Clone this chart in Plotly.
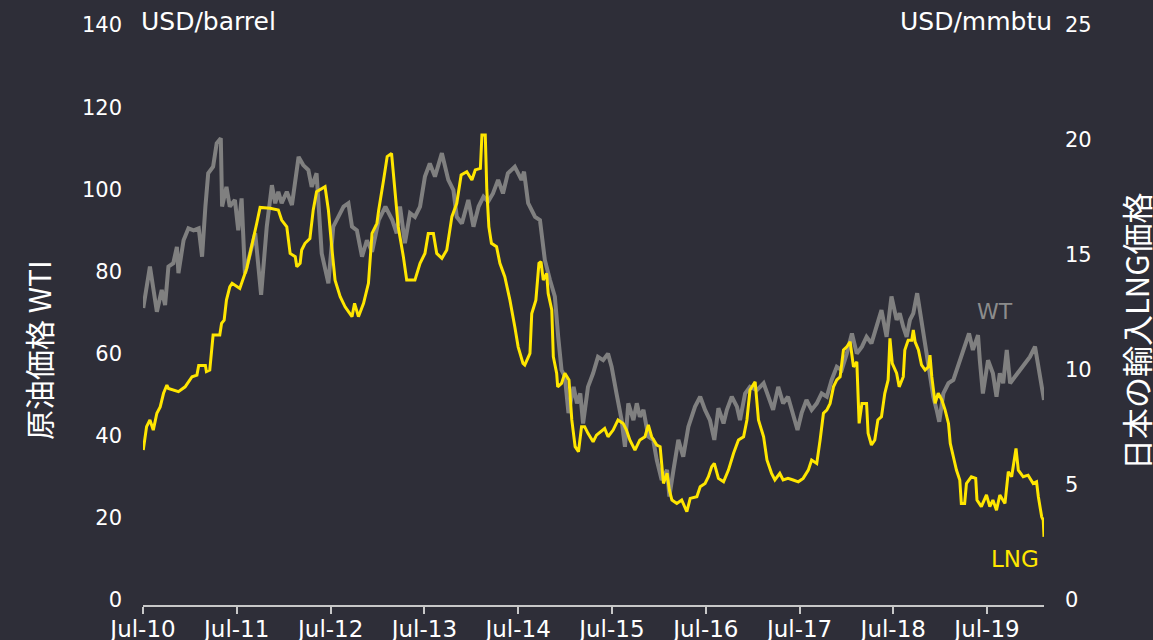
import plotly.graph_objects as go

# WTI crude oil price (USD/barrel)
wti_dates = [
    "2010-07-02", "2010-07-28", "2010-08-24", "2010-09-12", "2010-09-25", "2010-10-08",
    "2010-10-27", "2010-11-10", "2010-11-16", "2010-12-06", "2010-12-25", "2011-01-14",
    "2011-02-03", "2011-02-16", "2011-03-01", "2011-03-12", "2011-03-31", "2011-04-14",
    "2011-04-30", "2011-05-05", "2011-05-22", "2011-06-04", "2011-06-24", "2011-07-07",
    "2011-07-20", "2011-08-02", "2011-08-22", "2011-09-11", "2011-10-04", "2011-10-26",
    "2011-11-15", "2011-11-28", "2011-12-10", "2011-12-23", "2012-01-12", "2012-02-01",
    "2012-02-27", "2012-03-16", "2012-04-05", "2012-04-18", "2012-05-07", "2012-05-27",
    "2012-06-22", "2012-07-11", "2012-08-20", "2012-09-08", "2012-09-22", "2012-10-11",
    "2012-10-31", "2012-11-19", "2012-12-09", "2013-01-04", "2013-01-30", "2013-02-26",
    "2013-03-15", "2013-03-28", "2013-04-16", "2013-05-06", "2013-05-25", "2013-06-14",
    "2013-07-03", "2013-07-22", "2013-08-11", "2013-09-07", "2013-10-02", "2013-10-22",
    "2013-11-04", "2013-11-24", "2013-12-19", "2014-01-08", "2014-01-28", "2014-02-16",
    "2014-03-06", "2014-03-25", "2014-04-14", "2014-05-03", "2014-05-22", "2014-06-18",
    "2014-07-14", "2014-07-24", "2014-08-09", "2014-09-05", "2014-09-24", "2014-10-13",
    "2014-11-02", "2014-11-21", "2014-12-04", "2014-12-17", "2014-12-30", "2015-01-13",
    "2015-02-02", "2015-02-15", "2015-02-28", "2015-03-11", "2015-03-30", "2015-04-19",
    "2015-05-08", "2015-05-28", "2015-06-16", "2015-06-30", "2015-07-19", "2015-08-08",
    "2015-08-21", "2015-09-03", "2015-09-23", "2015-10-06", "2015-10-18", "2015-11-01",
    "2015-11-20", "2015-12-09", "2015-12-23", "2016-01-11", "2016-02-01", "2016-02-10",
    "2016-02-26", "2016-03-16", "2016-04-04", "2016-04-24", "2016-05-20", "2016-06-09",
    "2016-06-28", "2016-07-17", "2016-08-03", "2016-08-19", "2016-09-08", "2016-09-21",
    "2016-10-10", "2016-10-30", "2016-11-11", "2016-12-01", "2016-12-20", "2017-01-16",
    "2017-02-11", "2017-03-01", "2017-03-20", "2017-04-09", "2017-04-28", "2017-05-17",
    "2017-06-06", "2017-06-23", "2017-07-09", "2017-07-28", "2017-08-17", "2017-09-06",
    "2017-09-25", "2017-10-15", "2017-11-03", "2017-11-23", "2017-12-12", "2018-01-01",
    "2018-01-21", "2018-02-09", "2018-03-01", "2018-03-19", "2018-04-07", "2018-04-27",
    "2018-05-16", "2018-06-05", "2018-06-24", "2018-07-14", "2018-07-26", "2018-08-09",
    "2018-08-22", "2018-09-04", "2018-09-17", "2018-10-02", "2018-10-19", "2018-11-08",
    "2018-11-21", "2018-12-04", "2018-12-17", "2018-12-27", "2019-01-12", "2019-02-01",
    "2019-02-20", "2019-03-10", "2019-03-29", "2019-04-22", "2019-05-07", "2019-05-27",
    "2019-06-03", "2019-06-15", "2019-07-05", "2019-07-24", "2019-08-07", "2019-08-20",
    "2019-09-02", "2019-09-16", "2019-09-29", "2019-10-18", "2019-11-07", "2019-11-26",
    "2019-12-15", "2020-01-04", "2020-01-17", "2020-01-30", "2020-02-08",
]
wti_values = [
    71.1, 81.2, 70.2, 75.5, 71.8, 81.2,
    82.0, 86.0, 79.6, 87.6, 90.5, 90.0,
    90.5, 83.6, 95.8, 103.9, 105.5, 111.2,
    112.4, 95.8, 100.6, 95.8, 97.4, 90.0,
    97.8, 79.5, 84.4, 89.3, 74.3, 90.9,
    101.0, 96.6, 99.4, 96.6, 99.4, 96.2,
    107.9, 105.9, 104.7, 100.6, 103.9, 84.4,
    77.1, 90.9, 95.8, 96.6, 90.9, 90.0,
    83.6, 87.6, 84.8, 92.5, 95.8, 92.5,
    89.3, 95.8, 86.9, 94.2, 93.3, 95.8,
    103.1, 106.3, 103.1, 108.8, 102.3, 99.8,
    93.3, 91.7, 97.4, 90.9, 95.8, 98.2,
    97.0, 99.0, 102.3, 99.0, 103.9, 105.5,
    102.3, 104.3, 96.6, 93.3, 92.5, 82.8,
    77.9, 73.9, 64.1, 56.0, 54.4, 45.5,
    51.9, 47.9, 50.3, 43.0, 51.9, 55.2,
    59.2, 58.4, 60.0, 56.8, 50.3, 43.8,
    37.3, 47.9, 43.8, 47.9, 44.6, 46.3,
    39.8, 39.0, 34.1, 29.2, 31.7, 25.2,
    31.7, 39.0, 34.9, 42.2, 47.1, 49.5,
    46.3, 43.8, 39.0, 46.7, 43.0, 46.3,
    49.5, 47.1, 43.8, 50.3, 51.9, 51.1,
    52.8, 49.5, 46.3, 51.9, 47.9, 49.5,
    45.5, 41.4, 45.5, 48.7, 46.3, 47.9,
    50.3, 49.5, 53.6, 56.8, 56.0, 60.0,
    64.9, 60.0, 61.7, 64.1, 62.5, 66.5,
    70.6, 64.1, 73.9, 68.2, 69.8, 66.5,
    64.1, 68.2, 69.8, 74.7, 68.2, 60.9,
    55.2, 49.5, 46.3, 43.4, 50.3, 52.8,
    53.6, 56.8, 60.0, 64.9, 60.9, 64.5,
    58.4, 50.3, 58.4, 55.2, 49.5, 55.2,
    52.8, 60.9, 52.8, 54.4, 56.0, 57.6,
    59.2, 61.7, 56.8, 52.8, 48.7,
]

# Japan LNG import price (USD/mmbtu)
lng_dates = [
    "2010-07-02", "2010-07-08", "2010-07-15", "2010-07-28", "2010-08-10", "2010-08-24",
    "2010-09-06", "2010-09-19", "2010-10-02", "2010-10-08", "2010-11-16", "2010-12-12",
    "2011-01-08", "2011-01-27", "2011-02-03", "2011-03-01", "2011-03-05", "2011-03-18",
    "2011-03-25", "2011-03-31", "2011-04-26", "2011-05-03", "2011-05-13", "2011-05-22",
    "2011-06-04", "2011-06-13", "2011-07-13", "2011-07-26", "2011-08-09", "2011-08-22",
    "2011-09-04", "2011-09-17", "2011-09-30", "2011-11-08", "2011-12-10", "2011-12-23",
    "2012-01-12", "2012-01-25", "2012-02-14", "2012-02-20", "2012-03-04", "2012-03-10",
    "2012-03-23", "2012-04-11", "2012-04-24", "2012-05-07", "2012-06-09", "2012-06-22",
    "2012-07-05", "2012-07-18", "2012-08-07", "2012-08-26", "2012-09-22", "2012-10-02",
    "2012-10-17", "2012-11-06", "2012-11-25", "2012-12-09", "2012-12-28", "2013-01-04",
    "2013-01-23", "2013-02-06", "2013-02-23", "2013-03-08", "2013-03-21", "2013-04-10",
    "2013-04-23", "2013-05-25", "2013-06-14", "2013-07-03", "2013-07-16", "2013-08-05",
    "2013-08-18", "2013-09-07", "2013-09-26", "2013-10-16", "2013-11-04", "2013-11-21",
    "2013-12-13", "2014-01-02", "2014-01-15", "2014-02-04", "2014-02-10", "2014-02-23",
    "2014-03-01", "2014-03-09", "2014-03-19", "2014-04-08", "2014-04-21", "2014-05-10",
    "2014-05-30", "2014-06-18", "2014-07-01", "2014-07-20", "2014-07-27", "2014-08-16",
    "2014-08-23", "2014-09-08", "2014-09-20", "2014-09-28", "2014-10-07", "2014-10-20",
    "2014-10-26", "2014-11-09", "2014-11-15", "2014-11-28", "2014-12-02", "2014-12-17",
    "2014-12-30", "2015-01-15", "2015-01-26", "2015-02-08", "2015-02-21", "2015-03-05",
    "2015-03-17", "2015-03-30", "2015-04-19", "2015-05-02", "2015-05-21", "2015-06-03",
    "2015-06-16", "2015-07-06", "2015-07-25", "2015-08-14", "2015-08-27", "2015-09-09",
    "2015-09-29", "2015-10-18", "2015-11-07", "2015-11-20", "2015-12-03", "2015-12-23",
    "2016-01-05", "2016-01-18", "2016-02-01", "2016-02-10", "2016-02-20", "2016-03-10",
    "2016-03-29", "2016-04-18", "2016-05-01", "2016-05-27", "2016-06-09", "2016-06-28",
    "2016-07-11", "2016-07-24", "2016-08-03", "2016-08-19", "2016-09-08", "2016-09-27",
    "2016-10-17", "2016-11-05", "2016-11-25", "2016-12-08", "2016-12-20", "2017-01-09",
    "2017-01-22", "2017-02-11", "2017-02-24", "2017-03-14", "2017-03-27", "2017-04-15",
    "2017-04-28", "2017-05-17", "2017-06-06", "2017-06-26", "2017-07-15", "2017-08-04",
    "2017-08-17", "2017-09-06", "2017-09-19", "2017-10-02", "2017-10-15", "2017-10-28",
    "2017-11-10", "2017-11-23", "2017-12-06", "2017-12-19", "2018-01-01", "2018-01-14",
    "2018-01-27", "2018-02-09", "2018-02-18", "2018-03-01", "2018-03-19", "2018-03-25",
    "2018-04-07", "2018-04-20", "2018-05-02", "2018-05-16", "2018-05-29", "2018-06-11",
    "2018-06-18", "2018-06-27", "2018-07-14", "2018-07-24", "2018-08-09", "2018-08-15",
    "2018-08-28", "2018-09-11", "2018-09-17", "2018-09-24", "2018-10-07", "2018-10-19",
    "2018-11-02", "2018-11-15", "2018-11-21", "2018-11-28", "2018-12-11", "2018-12-23",
    "2019-01-06", "2019-01-19", "2019-02-01", "2019-02-08", "2019-02-20", "2019-03-04",
    "2019-03-17", "2019-03-23", "2019-04-05", "2019-04-12", "2019-05-01", "2019-05-18",
    "2019-05-23", "2019-06-09", "2019-06-29", "2019-07-12", "2019-07-24", "2019-08-07",
    "2019-08-20", "2019-09-09", "2019-09-22", "2019-10-05", "2019-10-22", "2019-10-31",
    "2019-11-19", "2019-12-08", "2019-12-28", "2020-01-10", "2020-01-17", "2020-01-30",
    "2020-02-05", "2020-02-08",
]
lng_values = [
    6.52, 7.10, 7.54, 7.83, 7.39, 8.12,
    8.40, 8.99, 9.35, 9.20, 9.06, 9.27,
    9.71, 9.78, 10.20, 10.20, 9.93, 10.00,
    11.00, 11.52, 11.52, 12.03, 12.17, 13.04,
    13.62, 13.77, 13.55, 13.99, 14.42, 15.07,
    15.80, 16.38, 17.07, 17.03, 16.96, 16.52,
    16.23, 15.07, 14.93, 14.49, 14.64, 15.22,
    15.51, 15.72, 16.96, 17.75, 17.97, 16.96,
    15.36, 13.91, 13.19, 12.75, 12.32, 12.90,
    12.32, 12.90, 13.77, 15.94, 16.38, 16.96,
    18.26, 19.28, 19.42, 17.97, 16.23, 14.93,
    13.91, 13.91, 14.64, 15.07, 15.94, 15.94,
    15.07, 14.86, 15.22, 16.67, 17.25, 18.48,
    18.62, 18.26, 18.70, 18.77, 20.22, 20.22,
    17.83, 16.23, 15.51, 15.36, 14.64, 14.06,
    13.04, 11.88, 11.01, 10.29, 10.22, 10.72,
    12.46, 13.04, 14.64, 14.71, 13.91, 14.20,
    13.33, 12.61, 10.58, 9.86, 9.27, 9.42,
    9.86, 9.57, 7.83, 6.67, 6.45, 7.54,
    7.54, 7.25, 6.88, 7.17, 7.32, 7.46,
    7.10, 7.39, 7.83, 7.68, 7.39, 6.96,
    6.52, 6.96, 7.10, 7.61, 7.10, 6.74,
    6.67, 5.07, 5.51, 4.78, 4.35, 4.20,
    4.35, 3.84, 4.42, 4.49, 4.93, 5.07,
    5.36, 5.80, 5.94, 5.29, 5.14, 5.65,
    6.38, 6.96, 7.10, 7.83, 9.13, 9.49,
    7.83, 7.10, 6.09, 5.51, 5.22, 5.51,
    5.22, 5.29, 5.22, 5.14, 5.29, 5.65,
    6.09, 5.94, 6.96, 8.12, 8.26, 8.55,
    9.27, 9.57, 9.71, 10.87, 11.01, 11.23,
    10.14, 10.36, 7.68, 8.55, 8.55, 7.25,
    6.74, 6.96, 7.83, 7.97, 8.99, 9.57,
    11.38, 10.29, 9.86, 9.27, 9.71, 10.87,
    11.30, 11.30, 11.74, 11.23, 10.87, 10.22,
    10.00, 10.14, 10.65, 9.71, 8.55, 8.99,
    8.70, 8.26, 7.68, 6.81, 6.23, 5.65,
    5.22, 4.20, 4.20, 5.07, 5.36, 5.29,
    4.35, 4.06, 4.57, 4.06, 4.35, 3.91,
    4.57, 4.20, 5.58, 5.36, 6.59, 5.65,
    5.36, 5.43, 5.07, 5.14, 4.49, 3.62,
    3.48, 2.75,
]

# Axis ticks
x_tick_dates = [f"20{y}-07-01" for y in range(10, 20)]
x_tick_text = [f"Jul-{y}" for y in range(10, 20)]
left_ticks = [0, 20, 40, 60, 80, 100, 120, 140]
right_ticks = [0, 5, 10, 15, 20, 25]

BG = "#2e2e38"
GRAY = "#808080"
YELLOW = "#ffe600"
TEXT = "#ffffff"
FONT = "DejaVu Sans"
CJK = "Noto Sans CJK JP"

# plot area in pixels (used to place the free-floating labels)
W, H = 1153, 640
L, R, T, B = 143, 109, 25, 35
PW, PH = W - L - R, H - T - B


def px(x):
    return (x - L) / PW


def py(y):
    return (H - B - y) / PH


fig = go.Figure()
fig.add_trace(go.Scatter(
    x=wti_dates, y=wti_values, mode="lines", name="WTI",
    line=dict(color=GRAY, width=4), yaxis="y",
))
fig.add_trace(go.Scatter(
    x=lng_dates, y=lng_values, mode="lines", name="LNG",
    line=dict(color=YELLOW, width=3), yaxis="y2",
))

fig.update_layout(
    width=W, height=H,
    margin=dict(l=L, r=R, t=T, b=B),
    paper_bgcolor=BG, plot_bgcolor=BG,
    showlegend=False,
    font=dict(family=FONT, color=TEXT, size=21),
    xaxis=dict(
        range=["2010-07-01", "2020-02-08"],
        tickvals=x_tick_dates, ticktext=x_tick_text,
        showgrid=False, zeroline=False, automargin=False,
        showline=True, linecolor="#c8c8c8", linewidth=2,
        ticks="outside", ticklen=7, tickwidth=2, tickcolor="#c8c8c8",
        ticklabelstandoff=-5,
        tickfont=dict(size=23, color=TEXT),
    ),
    yaxis=dict(
        range=[-1.2, 140], tickvals=left_ticks,
        showgrid=False, zeroline=False, showline=False, automargin=False,
        ticks="", ticklabelstandoff=20,
        tickfont=dict(size=21, color=TEXT),
    ),
    yaxis2=dict(
        range=[-1.2 * 25 / 140, 25], tickvals=right_ticks,
        overlaying="y", side="right",
        showgrid=False, zeroline=False, showline=False, automargin=False,
        ticks="", ticklabelstandoff=20,
        tickfont=dict(size=21, color=TEXT),
    ),
)

annotations = [
    dict(text="USD/barrel", x=px(139), y=py(22), xanchor="left", yanchor="middle",
         font=dict(size=25, color=TEXT, family=FONT)),
    dict(text="USD/mmbtu", x=px(1054), y=py(22), xanchor="right", yanchor="middle",
         font=dict(size=25, color=TEXT, family=FONT)),
    dict(text="原油価格 WTI", x=px(38), y=py(350), xanchor="center", yanchor="middle",
         textangle=-90, font=dict(size=30, color=TEXT, family=CJK)),
    dict(text="日本の輸入LNG価格", x=px(1135), y=py(331), xanchor="center", yanchor="middle",
         textangle=-90, font=dict(size=31, color=TEXT, family=CJK)),
    dict(text="WT", x=px(995), y=py(311), xanchor="center", yanchor="middle",
         font=dict(size=22, color="#8c8c8c", family=FONT)),
    dict(text="LNG", x=px(1015), y=py(559), xanchor="center", yanchor="middle",
         font=dict(size=23, color=YELLOW, family=FONT)),
]
for a in annotations:
    a.update(xref="paper", yref="paper", showarrow=False)
fig.update_layout(annotations=annotations)

fig.write_html("out.html")
